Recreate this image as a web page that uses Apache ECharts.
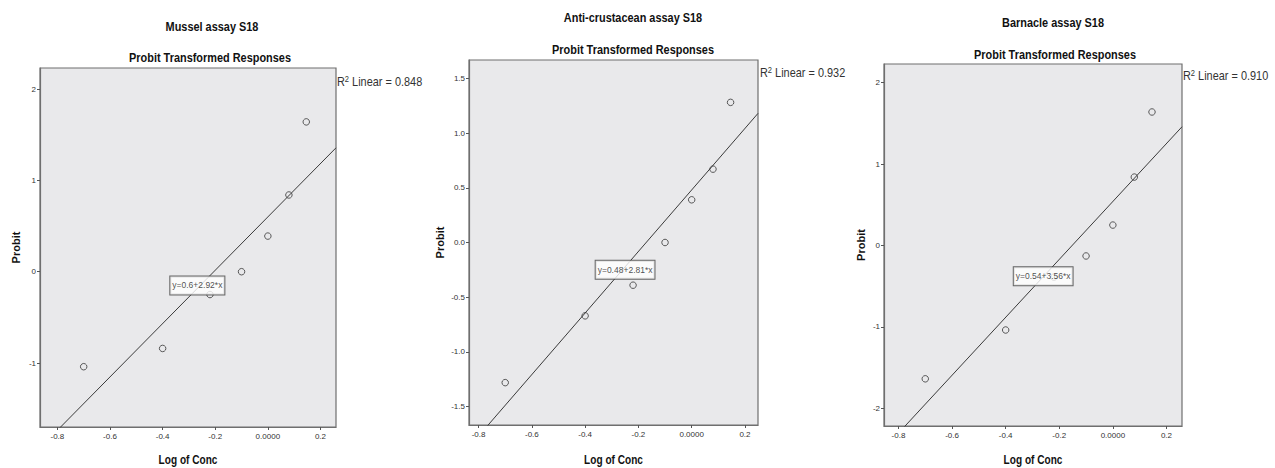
<!DOCTYPE html>
<html><head><meta charset="utf-8">
<script src="https://cdn.jsdelivr.net/npm/echarts@6/dist/echarts.min.js"></script>
<style>html,body{margin:0;padding:0;background:#fff}#c{width:1275px;height:468px}</style>
</head><body><div id="c"></div>
<script>
// ---- data ----
const chartTitles = ['Mussel assay S18', 'Anti-crustacean assay S18', 'Barnacle assay S18'];
const subTitle = 'Probit Transformed Responses';
const xAxisName = 'Log of Conc';
const yAxisName = 'Probit';
const logConc = [-0.70, -0.40, -0.22, -0.10, 0.00, 0.08, 0.146];
const musselProbit = [-1.04, -0.84, -0.25, 0.00, 0.39, 0.84, 1.64];
const crustaceanProbit = [-1.28, -0.67, -0.39, 0.00, 0.39, 0.67, 1.28];
const barnacleProbit = [-1.64, -1.04, -0.39, -0.13, 0.25, 0.84, 1.64];
const fitIntercepts = [0.6, 0.48, 0.54];
const fitSlopes = [2.92, 2.81, 3.56];
const fitLabels = ['y=0.6+2.92*x', 'y=0.48+2.81*x', 'y=0.54+3.56*x'];
const r2Values = ['0.848', '0.932', '0.910'];
const xTickValues = [-0.8, -0.6, -0.4, -0.2, 0, 0.2];
const yTickValues1 = [-1, 0, 1, 2];
const yTickValues2 = [-1.5, -1.0, -0.5, 0, 0.5, 1.0, 1.5];
const yTickValues3 = [-2, -1, 0, 1, 2];

// ---- layout / style ----
const FONT = '"Liberation Sans", Arial, sans-serif';
const SX = 0.84; // horizontal condensing of text, to mimic a narrow face
const probitSets = [musselProbit, crustaceanProbit, barnacleProbit];
const yTickSets = [yTickValues1, yTickValues2, yTickValues3];
const yDecimals = [0, 1, 0];
const panels = [
  {grid: {left: 40, top: 68, width: 296, height: 359}, x: [-0.866, 0.259], y: [-1.70, 2.23], yName: 16,
   t1: [212, 27], t2: [210, 58], r2: [337, 82], lab: [-0.268, -0.15]},
  {grid: {left: 469, top: 60, width: 289, height: 365}, x: [-0.836, 0.249], y: [-1.667, 1.667], yName: 440,
   t1: [633, 18], t2: [633, 50], r2: [760, 73], lab: [-0.25, -0.25]},
  {grid: {left: 884, top: 64, width: 298, height: 362}, x: [-0.854, 0.258], y: [-2.22, 2.23], yName: 861,
   t1: [1053, 23], t2: [1055, 55], r2: [1183, 76], lab: [-0.26, -0.38]}
];

function txt(x, y, text, font) {
  return {type: 'text', x: x, y: y, scaleX: SX, originX: 0, originY: 0,
    style: {text: text, font: font, fill: '#111', align: 'center', verticalAlign: 'middle'}};
}

const grids = [], xAxes = [], yAxes = [], series = [], graphics = [];
panels.forEach((p, i) => {
  const g = p.grid;
  grids.push(Object.assign({show: true, backgroundColor: '#e9e9eb', borderColor: '#6f6f6f', borderWidth: 1.2}, g));
  xAxes.push({
    type: 'value', gridIndex: i, min: p.x[0], max: p.x[1],
    axisLine: {show: true, onZero: false, lineStyle: {color: '#6f6f6f', width: 1.2}},
    axisTick: {show: true, length: 3, lineStyle: {color: '#555'}, customValues: xTickValues},
    axisLabel: {fontFamily: FONT, fontSize: 8, color: '#333', margin: 5, customValues: xTickValues,
      formatter: v => (Math.abs(v) < 1e-9 ? '0.0000' : v.toFixed(1))},
    splitLine: {show: false}
  });
  yAxes.push({
    type: 'value', gridIndex: i, min: p.y[0], max: p.y[1],
    axisLine: {show: true, onZero: false, lineStyle: {color: '#6f6f6f', width: 1.2}},
    axisTick: {show: true, length: 3, lineStyle: {color: '#555'}, customValues: yTickSets[i]},
    axisLabel: {fontFamily: FONT, fontSize: 8, color: '#333', margin: 4, customValues: yTickSets[i],
      formatter: v => v.toFixed(yDecimals[i])},
    splitLine: {show: false}
  });
  const a = fitIntercepts[i], b = fitSlopes[i];
  series.push({
    type: 'line', xAxisIndex: i, yAxisIndex: i, symbol: 'none', silent: true, z: 3,
    lineStyle: {color: '#3a3a3a', width: 1},
    data: [[p.x[0], a + b * p.x[0]], [p.x[1], a + b * p.x[1]]]
  });
  series.push({
    type: 'scatter', xAxisIndex: i, yAxisIndex: i, symbol: 'circle', symbolSize: 6.5, z: 4,
    itemStyle: {color: 'rgba(0,0,0,0)', borderColor: '#333', borderWidth: 1},
    data: logConc.map((x, k) => [x, probitSets[i][k]])
  });
  series.push({
    type: 'scatter', xAxisIndex: i, yAxisIndex: i, symbolSize: 1, z: 10, silent: true,
    itemStyle: {color: 'rgba(0,0,0,0)'},
    label: {show: true, position: 'inside', formatter: fitLabels[i], fontFamily: FONT, fontSize: 8.5,
      color: '#222', backgroundColor: '#ffffff', borderColor: '#444', borderWidth: 1, padding: [5, 2, 4, 2]},
    data: [p.lab]
  });
  graphics.push(txt(p.t1[0], p.t1[1], chartTitles[i], 'bold 13px ' + FONT));
  graphics.push(txt(p.t2[0], p.t2[1], subTitle, 'bold 13px ' + FONT));
  graphics.push({type: 'text', x: p.r2[0], y: p.r2[1], scaleX: SX, style: {
    text: '{r|R}{s|2}{r| Linear = ' + r2Values[i] + '}', align: 'left', verticalAlign: 'middle',
    rich: {r: {fontFamily: FONT, fontSize: 13, fill: '#333', color: '#333'},
           s: {fontFamily: FONT, fontSize: 9, fill: '#333', color: '#333', verticalAlign: 'top', padding: [0, 0, 6, 0]}}}});
  // axis names
  graphics.push(txt(g.left + g.width / 2, 460, xAxisName, 'bold 12px ' + FONT));
  graphics.push({type: 'text', x: p.yName, y: g.top + g.height / 2, rotation: Math.PI / 2, style: {
    text: yAxisName, font: 'bold 11px ' + FONT, fill: '#111', align: 'center', verticalAlign: 'middle'}});
});

const chart = echarts.init(document.getElementById('c'), null, {renderer: 'svg'});
chart.setOption({
  animation: false,
  backgroundColor: '#ffffff',
  grid: grids, xAxis: xAxes, yAxis: yAxes, series: series, graphic: graphics
});
</script>
</body></html>
